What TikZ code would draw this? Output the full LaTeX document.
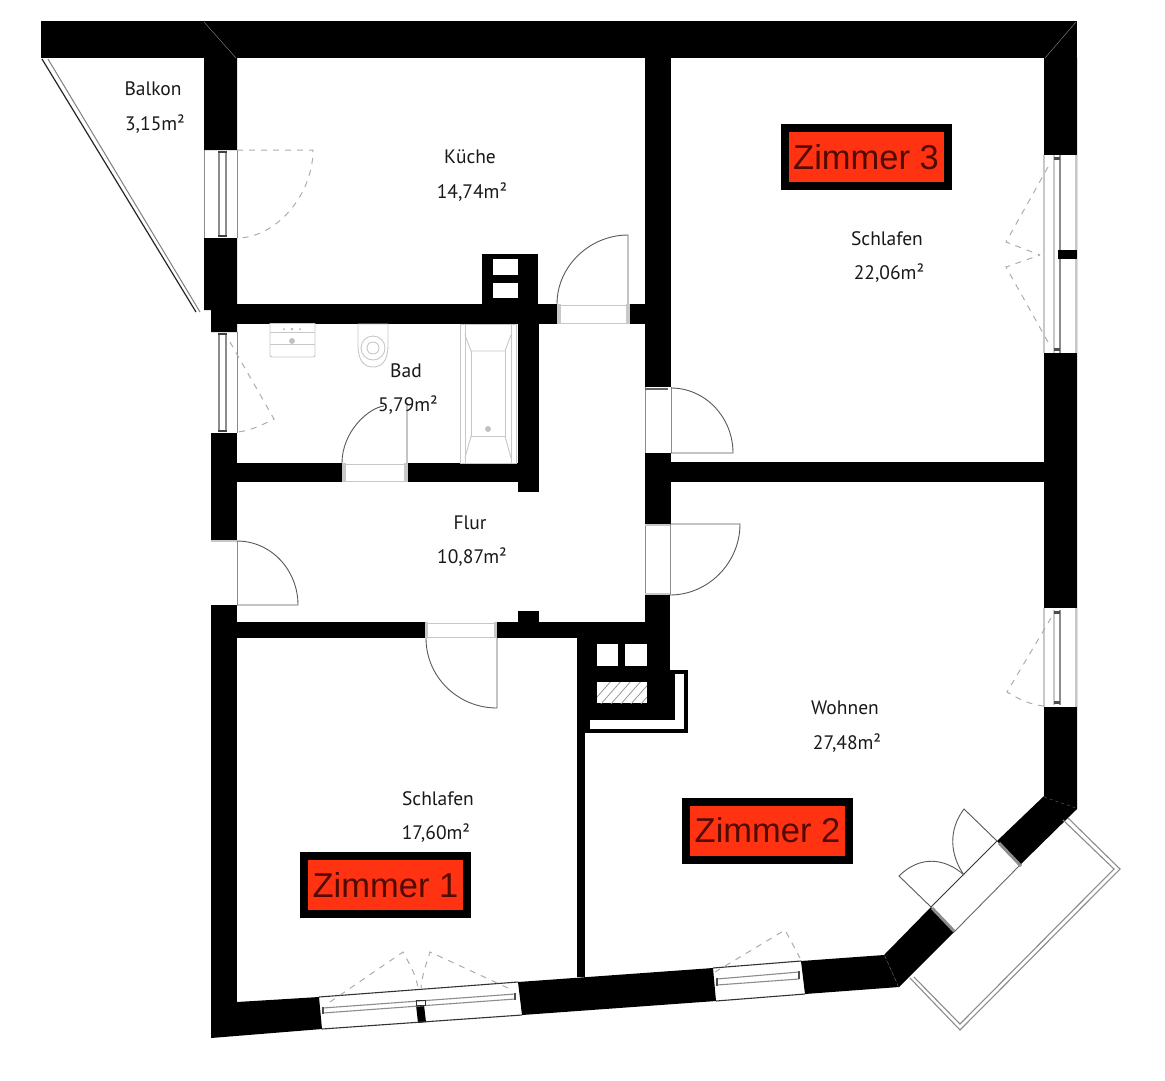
\documentclass[tikz,border=0pt]{standalone}
\usepackage{fontspec}
\setmainfont{PT Sans}
\newfontfamily\arialfont{Liberation Sans}
\usetikzlibrary{patterns}
\definecolor{zred}{HTML}{FF3312}
\definecolor{ztxt}{HTML}{520B03}
\definecolor{lg}{HTML}{C8C8C8}
\definecolor{mg}{HTML}{8C8C8C}
\tikzset{
  wall/.style={fill=black,draw=none},
  hole/.style={fill=white,draw=none},
  thinline/.style={draw=mg,line width=0.9pt},
  glass/.style={draw=mg,line width=1.1pt},
  frameline/.style={draw=lg,line width=1.6pt},
  swing/.style={draw=black!65,line width=0.9pt},
  dashswing/.style={draw=black!32,line width=1pt,dash pattern=on 6pt off 6pt},
  fixture/.style={draw=black!22,line width=0.9pt},
  rail/.style={draw=black!45,line width=1.1pt},
  roomtext/.style={font=\fontsize{19.5}{22}\selectfont,text=black!90,inner sep=0pt},
  zimmerlabel/.style={draw=black,line width=8pt,fill=zred,text=ztxt,minimum width=163pt,minimum height=58pt,inner sep=0pt,font=\arialfont\fontsize{34.5}{40}\selectfont}
}
\begin{document}
\begin{tikzpicture}[x=1pt,y=-1pt]
\useasboundingbox (0,0) rectangle (1165,1080);
\fill[white] (0,0) rectangle (1165,1080);
% Top wall
\fill[wall] (41,21) -- (1077,21) -- (1077,58) -- (41,58) -- cycle;
% Right wall and diagonal
\fill[wall] (1044,58) -- (1077,58) -- (1077,809) -- (1020,865) -- (997,841) -- (1044,796) -- cycle;
\fill[hole] (1044,155) rectangle (1077,353);
\fill[hole] (1044,608) rectangle (1077,707);
\fill[wall] (931,907) -- (954,932) -- (899,987) -- (884,955) -- cycle;
% Bottom wall
\fill[wall] (211,1002) -- (237,1002) -- (319,997) -- (322,1029) -- (211,1038) -- cycle;
\fill[wall] (518,982) -- (713,968) -- (716,1001) -- (522,1015) -- cycle;
\fill[wall] (801,961) -- (884,955) -- (899,987) -- (805,994) -- cycle;
\fill[wall] (416,1005) -- (424,1005) -- (426,1022) -- (418,1023) -- cycle;
% Left walls
\fill[wall] (204,21) -- (237,58) -- (237,150) -- (204,150) -- cycle;
\fill[wall] (204,238) -- (237,238) -- (237,332) -- (211,332) -- (211,310) -- (204,310) -- cycle;
\fill[wall] (211,433) -- (237,433) -- (237,540) -- (211,540) -- cycle;
\fill[wall] (211,605) -- (237,605) -- (237,1002) -- (211,1002) -- cycle;
% Interior walls
\fill[wall] (237,304) rectangle (557,324);
\fill[wall] (630,304) rectangle (645,324);
\fill[wall] (482,254) rectangle (538,304);
\fill[hole] (493,259) rectangle (518,275);
\fill[hole] (493,283) rectangle (518,298);
\fill[wall] (518,324) rectangle (539,492);
\fill[wall] (237,463) rectangle (342,482);
\fill[wall] (408,463) rectangle (518,482);
\fill[wall] (645,58) rectangle (671,387);
\fill[wall] (645,453) rectangle (671,524);
\fill[wall] (671,462) rectangle (1044,482);
\fill[wall] (645,595) rectangle (670,640);
\fill[wall] (237,622) rectangle (425,638);
\fill[wall] (497,622) rectangle (670,638);
\fill[wall] (518,611) rectangle (539,622);
% Chimney block and thin wall
\fill[wall] (577,638) rectangle (585,977);
\fill[wall] (577,638) rectangle (670,717);
\fill[wall] (670,670) rectangle (688,733);
\fill[wall] (577,717) rectangle (688,733);
\fill[hole] (675,674) rectangle (684,729);
\fill[hole] (590,720) rectangle (684,729);
\fill[hole] (597,644) rectangle (618,666);
\fill[hole] (625,644) rectangle (647,666);
\fill[hole] (597,682) rectangle (647,703);
\begin{scope}
\clip (597,682) rectangle (647,703);
\foreach \i in {0,10,...,80}{\draw[black!45,line width=0.7pt] (590+\i,705) -- (612+\i,680);}
\end{scope}
% Mitres
\draw[white!55!black,line width=0.4pt] (204,22) -- (236,58);
\draw[white!55!black,line width=0.4pt] (1076,22) -- (1045,58);
\draw[white!40!black,line width=0.4pt,dashed] (1044,797) -- (1076,808);
\draw[white!40!black,line width=0.4pt,dashed] (885,956) -- (898,986);
% Balkon rail
\draw[black!85,line width=1.2pt] (42,59) -- (196,312);
\draw[black!50,line width=1pt] (48,59) -- (200,312);
% Kitchen balcony door
\draw[thinline] (204,150) -- (204,238);
\draw[thinline] (237,150) -- (237,238);
\draw[glass] (219,152) -- (219,236) (226,152) -- (226,236);
\fill[black!75] (218,151) rectangle (227,153);
\fill[black!75] (218,235) rectangle (227,237);
\draw[dashswing] (237,150) -- (313,150) .. controls (313,195) and (276,238) .. (237,238);
% Bad window
\draw[thinline] (237,332) -- (237,433);
\draw[glass] (219,334) -- (219,431) (226,334) -- (226,431);
\fill[black!75] (218,333) rectangle (227,335);
\fill[black!75] (218,430) rectangle (227,432);
\draw[dashswing] (230,342) -- (274,419) .. controls (262,425) and (250,431) .. (237,432);
% Door Kueche
\fill[lg] (557,304) rectangle (561,324);
\fill[lg] (626,304) rectangle (630,324);
\draw[fixture] (557,305) -- (630,305) (557,323) -- (630,323);
\draw[swing] (628,304) -- (628,235) .. controls (590,235) and (557,266) .. (557,304);
% Door Zimmer 3
\draw[thinline] (645,387) -- (645,453) (671,387) -- (671,453);
\fill[black!60] (645,388) rectangle (668,390);
\draw[swing] (671,453) -- (733,453) .. controls (733,417) and (705,388) .. (671,388);
% Door Wohnen
\draw[thinline] (645,524) -- (645,595) (670,524) -- (670,595);
\draw[lg,line width=1.4pt] (645,525) -- (670,525) (645,594) -- (670,594);
\draw[swing] (670,524) -- (740,524) .. controls (740,563) and (708,595) .. (670,595);
% Door Bad
\fill[lg] (342,463) rectangle (346,482);
\fill[lg] (404,463) rectangle (408,482);
\draw[fixture] (342,481) -- (408,481) (342,464) -- (408,464);
\draw[swing] (407,463) -- (407,403) (342,463) .. controls (342,432) and (368,408) .. (384,406);
% Door Schlafen 1
\fill[lg] (425,622) rectangle (428,638);
\fill[lg] (494,622) rectangle (497,638);
\draw[fixture] (425,623) -- (497,623) (425,637) -- (497,637);
\draw[swing] (497,638) -- (497,708) .. controls (458,708) and (426,677) .. (426,638);
% Entry door
\draw[thinline] (237,541) -- (237,605);
\draw[lg,line width=1.4pt] (211,541) -- (237,541);
\draw[swing] (237,541) .. controls (271,541) and (298,570) .. (298,605) -- (237,605);
% Zimmer 3 window
\draw[frameline] (1044,155) -- (1044,353) (1076,155) -- (1076,353);
\draw[lg,line width=1.2pt] (1054,155) -- (1054,353);
\draw[glass] (1060,155) -- (1060,353);
\fill[wall] (1058,250) rectangle (1077,259);
\fill[black!70] (1054,157) rectangle (1060,160);
\fill[black!70] (1054,348) rectangle (1060,351);
\draw[dashswing] (1048,167) -- (1006,242) -- (1040,255);
\draw[dashswing] (1048,342) -- (1006,267) -- (1040,255);
% Wohnen window
\draw[frameline] (1044,608) -- (1044,707) (1076,608) -- (1076,707);
\draw[lg,line width=1.2pt] (1054,610) -- (1054,705);
\draw[glass] (1060,610) -- (1060,705);
\fill[black!70] (1054,611) rectangle (1060,614);
\fill[black!70] (1054,701) rectangle (1060,704);
\draw[dashswing] (1051,618) -- (1007,692) .. controls (1020,700) and (1032,705) .. (1044,706);
% Zimmer 1 window
\draw[black!80,line width=1.1pt] (319,997) -- (518,982);
\draw[black!80,line width=1.1pt] (322,1029) -- (522,1015);
\draw[mg,line width=1.1pt] (323,1008) -- (515,994) (323,1013) -- (515,999);
\draw[black!80,line width=0.9pt] (416,1000) rectangle (425,1005);
\draw[black!70,line width=2pt] (323,1007) -- (323,1014) (515,993) -- (515,1000);
\draw[dashswing] (330,1002) -- (403,952) .. controls (410,965) and (416,975) .. (418,988);
\draw[dashswing] (508,988) -- (430,952) .. controls (426,965) and (422,975) .. (421,988);
% Wohnen bottom window
\draw[black!80,line width=1.1pt] (713,968) -- (801,961);
\draw[black!80,line width=1.1pt] (716,1001) -- (805,994);
\draw[mg,line width=1.1pt] (717,979) -- (799,972) (717,985) -- (799,979);
\draw[black!70,line width=2pt] (717,978) -- (717,986) (799,971) -- (799,979);
\draw[dashswing] (715,972) -- (785,930) -- (800,958);
% Diagonal balcony door
\draw[black!80,line width=0.9pt] (931,907) -- (997,841);
\draw[black!60,line width=0.9pt] (954,932) -- (1020,865);
\draw[mg,line width=3pt] (999,843) -- (1021,866) (932,908) -- (954,931);
\draw[swing] (997,841) -- (964,809) .. controls (948,830) and (950,855) .. (964,875);
\draw[swing] (931,907) -- (899,876) .. controls (920,855) and (945,858) .. (964,875);
% Balcony
\draw[rail] (1068,818) -- (1120,869) -- (960,1030) -- (910,978);
\draw[rail] (1063,820) -- (1114,869) -- (960,1024) -- (914,977);
% Sink
\draw[fixture,rounded corners=2pt] (270,323) -- (270,357) -- (315,357) -- (315,323);
\draw[fixture] (270,323) -- (315,323) (270,332) -- (315,332) (270,344) -- (315,344);
\fill[black!30] (284,329) circle (1pt) (292,329) circle (1.3pt) (300,329) circle (1pt);
\draw[fixture,fill=black!25] (292,341) circle (2.5pt);
% Toilet
\draw[fixture] (358,324) -- (388,324) -- (388,345) .. controls (388,362) and (381,367) .. (373,367) .. controls (365,367) and (358,362) .. (358,345) -- cycle;
\draw[fixture] (373,348) circle (12pt);
\draw[fixture] (373,348) circle (6pt);
% Tub
\draw[fixture] (460,324) rectangle (516,463);
\draw[fixture] (465,324) -- (465,463) (511,324) -- (511,463);
\draw[fixture] (465,335) -- (471,351) -- (505,351) -- (511,335);
\draw[fixture] (471,351) -- (471,436) -- (505,436) -- (505,351);
\draw[fixture] (465,458) -- (471,436) (511,458) -- (505,436);
\draw[fixture,fill=black!25] (488,429) circle (2.5pt);
% Texts
\node[roomtext] (balkon) at (153,89) {Balkon};
\node[roomtext] (balkona) at (155,124) {3,15m²};
\node[roomtext] (kueche) at (470,157) {Küche};
\node[roomtext] (kuechea) at (472,192) {14,74m²};
\node[roomtext] (schlafenb) at (887,239) {Schlafen};
\node[roomtext] (schlafenba) at (889,273) {22,06m²};
\node[roomtext] (bad) at (406,371) {Bad};
\node[roomtext] (bada) at (408,405) {5,79m²};
\node[roomtext] (flur) at (470,523) {Flur};
\node[roomtext] (flura) at (472,557) {10,87m²};
\node[roomtext] (wohnen) at (845,708) {Wohnen};
\node[roomtext] (wohnena) at (847,743) {27,48m²};
\node[roomtext] (schlafena) at (438,799) {Schlafen};
\node[roomtext] (schlafenaa) at (436,833) {17,60m²};
\node[zimmerlabel] (z3) at (866,157) {Zimmer 3};
\node[zimmerlabel] (z2) at (767.5,830.5) {Zimmer 2};
\node[zimmerlabel] (z1) at (385.5,885) {Zimmer 1};
\end{tikzpicture}
\end{document}
